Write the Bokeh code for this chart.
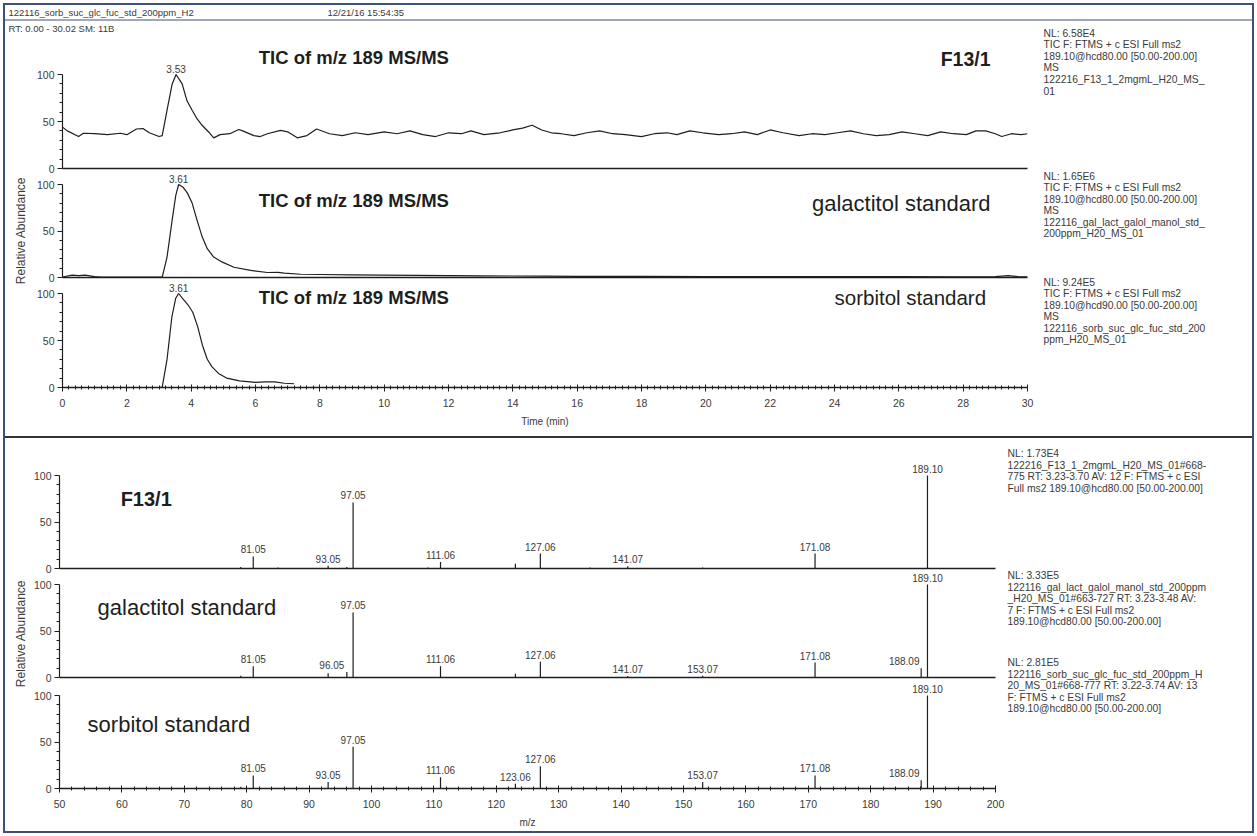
import numpy as np
from bokeh.plotting import figure
from bokeh.models import Range1d, FixedTicker, Spacer
from bokeh.layouts import column, row
from bokeh.core.properties import value
from bokeh.embed import file_html
from bokeh.resources import INLINE

FONT = "Liberation Sans"

# ---------------- chromatogram data (relative abundance vs. time, min) ----------------
f13_time = [0.0, 0.15, 0.5, 0.65, 1.0, 1.4, 1.8, 2.0, 2.3, 2.5,
            2.7, 3.0, 3.1, 3.25, 3.41, 3.53, 3.72, 3.87, 4.03, 4.18,
            4.34, 4.55, 4.7, 4.9, 5.2, 5.48, 5.6, 5.95, 6.15, 6.37,
            6.78, 7.0, 7.3, 7.6, 7.9, 8.3, 8.7, 9.1, 9.5, 10.0,
            10.4, 10.8, 11.2, 11.6, 12.0, 12.4, 12.7, 13.1, 13.6, 14.0,
            14.3, 14.6, 14.9, 15.2, 15.5, 15.9, 16.3, 16.7, 17.1, 17.5,
            18.0, 18.4, 18.8, 19.1, 19.5, 19.9, 20.4, 20.8, 21.2, 21.6,
            22.0, 22.4, 22.9, 23.3, 23.7, 24.1, 24.5, 24.9, 25.3, 25.7,
            26.1, 26.5, 26.9, 27.3, 27.7, 28.1, 28.4, 28.7, 29.0, 29.2,
            29.5, 29.8, 30.0]
f13_tic = [44, 40, 34, 37.5, 37, 36, 37.5, 36, 42, 42.5,
           38, 34, 35, 62, 90, 100, 90, 72, 62, 53,
           46, 38.6, 32.6, 36, 37, 41.5, 40, 35, 34, 37,
           40.5, 39, 32.6, 35, 42, 37, 35, 38, 36, 39,
           37, 40, 36, 34, 38, 37, 40, 36, 38, 41,
           43, 46, 41, 38, 37, 35, 38, 40, 37, 36,
           34, 37, 38, 36, 40, 38, 36, 37, 39, 36,
           41, 38, 35, 37, 36, 38, 40, 37, 35, 36,
           39, 37, 35, 39, 37, 36, 40, 40, 37, 34,
           37, 36, 37]

gal_time = [0.0, 0.3, 0.5, 0.7, 1.0, 1.2, 2.0, 2.5, 3.0, 3.1,
            3.25, 3.41, 3.52, 3.61, 3.75, 3.88, 4.03, 4.18, 4.34, 4.5,
            4.7, 4.97, 5.33, 5.85, 6.37, 6.7, 6.9, 7.4, 8.0, 9.0,
            10.0, 11.0, 12.0, 13.0, 14.0, 15.0, 16.0, 18.0, 20.0, 22.0,
            24.0, 26.0, 28.0, 29.0, 29.4, 29.7, 30.0]
gal_tic = [0.5, 2.5, 2.0, 2.5, 1.0, 0.5, 0.3, 0.3, 0.3, 0.5,
           22, 62, 88, 100, 97, 91, 80, 62, 44, 31,
           22, 16.5, 11, 7.6, 5.4, 5.5, 4.7, 3.5, 3.2, 2.8,
           2.5, 2.2, 2.0, 1.8, 1.6, 1.5, 1.3, 1.2, 1.0, 1.0,
           0.9, 0.9, 0.8, 1.0, 2.0, 1.0, 0.8]

sorb_time = [0.0, 1.0, 2.0, 3.0, 3.1, 3.25, 3.4, 3.52, 3.61, 3.75,
             3.9, 4.05, 4.2, 4.35, 4.5, 4.65, 4.85, 5.1, 5.5, 6.0,
             6.3, 6.6, 6.9, 7.2]
sorb_tic = [0, 0, 0, 0, 0.5, 30, 75, 95, 100, 94,
            88, 80, 65, 45, 30, 22, 15, 10, 7, 5.5,
            6, 6, 4.5, 4]

# ---------------- MS/MS spectra (m/z, relative abundance) ----------------
f13_mz = [79.05, 81.05, 85.03, 93.05, 96.04, 97.05, 109.07, 111.06, 123.06, 127.06,
          135.04, 141.07, 153.07, 171.08, 189.10]
f13_int = [1.5, 13, 1, 3, 1.5, 71, 1, 7, 5, 16,
           1, 2.5, 1, 16, 100]
f13_labeled = [81.05, 93.05, 97.05, 111.06, 127.06, 141.07, 171.08, 189.10]

gal_mz = [79.05, 81.05, 93.05, 96.05, 97.05, 111.06, 123.06, 127.06, 141.07, 153.07,
          171.08, 188.09, 189.10]
gal_int = [2, 12, 4.5, 6, 70, 12, 4, 17, 1.5, 2,
           16, 10, 100]
gal_labeled = [81.05, 96.05, 97.05, 111.06, 127.06, 141.07, 153.07, 171.08, 188.09, 189.10]

sorb_mz = [79.05, 81.05, 93.05, 97.05, 111.06, 123.06, 127.06, 153.07, 171.08, 188.09,
           189.10]
sorb_int = [2, 14, 7, 45, 12, 5, 24, 7, 14, 9,
            100]
sorb_labeled = [81.05, 93.05, 97.05, 111.06, 123.06, 127.06, 153.07, 171.08, 188.09, 189.10]

# ---------------- axis ticks ----------------
rel_ticks = [0, 50, 100]
time_ticks = list(range(0, 31, 2))
mz_ticks = list(range(50, 201, 10))

# ---------------- texts ----------------
header_file = "122116_sorb_suc_glc_fuc_std_200ppm_H2"
header_time = "12/21/16 15:54:35"
rt_line = "RT: 0.00 - 30.02   SM: 11B"
tic_title = "TIC of m/z 189 MS/MS"
sample_names = ["F13/1", "galactitol standard", "sorbitol standard"]

tic_info = [
    ["NL: 6.58E4", "TIC F: FTMS + c ESI Full ms2", "189.10@hcd80.00 [50.00-200.00]",
     "MS", "122216_F13_1_2mgmL_H20_MS_", "01"],
    ["NL: 1.65E6", "TIC F: FTMS + c ESI Full ms2", "189.10@hcd80.00 [50.00-200.00]",
     "MS", "122116_gal_lact_galol_manol_std_", "200ppm_H20_MS_01"],
    ["NL: 9.24E5", "TIC F: FTMS + c ESI Full ms2", "189.10@hcd90.00 [50.00-200.00]",
     "MS", "122116_sorb_suc_glc_fuc_std_200", "ppm_H20_MS_01"],
]
spec_info = [
    ["NL: 1.73E4", "122216_F13_1_2mgmL_H20_MS_01#668-",
     "775  RT: 3.23-3.70  AV: 12 F: FTMS + c ESI", "Full ms2 189.10@hcd80.00 [50.00-200.00]"],
    ["NL: 3.33E5", "122116_gal_lact_galol_manol_std_200ppm",
     "_H20_MS_01#663-727  RT: 3.23-3.48  AV:", "7 F: FTMS + c ESI Full ms2",
     "189.10@hcd80.00 [50.00-200.00]"],
    ["NL: 2.81E5", "122116_sorb_suc_glc_fuc_std_200ppm_H",
     "20_MS_01#668-777  RT: 3.22-3.74  AV: 13", "F: FTMS + c ESI Full ms2",
     "189.10@hcd80.00 [50.00-200.00]"],
]

INK = "#1e1e1e"
GREY = "#3a3a3a"
PAD = 8          # transparent margin above/below stacked panels
OVERLAP = -14    # stacked panels overlap by their transparent margins


def text_canvas(width, height):
    """A blank canvas whose data units are pixels, y growing downwards."""
    p = figure(width=width, height=height, x_range=Range1d(0, width), y_range=Range1d(height, 0),
               output_backend="svg", toolbar_location=None, min_border=0,
               x_axis_location=None, y_axis_location=None)
    p.outline_line_color = None
    p.grid.visible = False
    p.background_fill_color = "white"
    p.border_fill_color = "white"
    return p


def panel(width, frame_h, x_range, px_per_unit, left, right, top, bottom,
          bottom_axis=None, shift=0):
    styles = {"margin-top": f"{shift}px"} if shift else {}
    p = figure(width=width, height=top + frame_h + bottom, x_range=x_range,
               y_range=Range1d(0, frame_h / px_per_unit),
               output_backend="svg", toolbar_location=None,
               min_border_left=left, min_border_right=right,
               min_border_top=top, min_border_bottom=bottom, styles=styles)
    p.outline_line_color = None
    p.grid.visible = False
    p.background_fill_alpha = 0
    p.border_fill_alpha = 0
    yax = p.yaxis[0]
    yax.bounds = (0, 100)
    yax.ticker = FixedTicker(ticks=rel_ticks, minor_ticks=[10, 20, 30, 40, 60, 70, 80, 90])
    yax.axis_line_color = INK
    yax.axis_line_width = 1.2
    yax.major_tick_line_color = INK
    yax.minor_tick_line_color = INK
    yax.major_tick_in = 0
    yax.major_tick_out = 5
    yax.minor_tick_in = 0
    yax.minor_tick_out = 3
    yax.major_label_standoff = 3
    yax.major_label_text_font = FONT
    yax.major_label_text_font_size = "10.5px"
    yax.major_label_text_color = GREY

    xax = p.xaxis[0]
    xax.axis_line_color = INK
    xax.axis_line_width = 1.4
    if bottom_axis is None:
        xax.ticker = FixedTicker(ticks=[])
        xax.major_tick_out = 0
        xax.major_tick_in = 0
        xax.minor_tick_out = 0
        xax.minor_tick_in = 0
        xax.major_label_standoff = 0
    else:
        ticks, minor, label = bottom_axis
        xax.ticker = FixedTicker(ticks=ticks, minor_ticks=minor)
        xax.major_tick_line_color = INK
        xax.minor_tick_line_color = INK
        xax.major_tick_in = 3
        xax.major_tick_out = 4
        xax.minor_tick_in = 2
        xax.minor_tick_out = 2
        xax.major_label_standoff = 7
        xax.major_label_text_font = FONT
        xax.major_label_text_font_size = "10.5px"
        xax.major_label_text_color = GREY
        xax.axis_label = label
        xax.axis_label_standoff = 6
        xax.axis_label_text_font = FONT
        xax.axis_label_text_font_size = "10px"
        xax.axis_label_text_font_style = "normal"
        xax.axis_label_text_color = GREY
    return p


def panel_text(p, x, y, text, size, bold=False):
    p.text(x=[x], y=[y], text=[text], text_font=value(FONT), text_font_size=size,
           text_font_style="bold" if bold else "normal", text_color=INK,
           text_align="left", text_baseline="middle")


def info_block(p, x, y0, lines, step, size="10.3px"):
    p.text(x=[x] * len(lines), y=[y0 + i * step for i in range(len(lines))], text=lines,
           text_font=value(FONT), text_font_size=size, text_color=GREY,
           text_align="left", text_baseline="middle")


def trace(p, t, v):
    p.line(t, v, line_color=INK, line_width=1.2)
    k = int(np.argmax(v))
    p.text(x=[t[k]], y=[v[k]], text=[f"{t[k]:.2f}"], text_font=value(FONT),
           text_font_size="10px", text_color=GREY, text_align="center",
           text_baseline="bottom", y_offset=-2)


def sticks(p, mz, inten, labeled, shifted):
    p.segment(x0=mz, y0=[0] * len(mz), x1=mz, y1=inten, line_color=INK, line_width=1.2)
    lab_y = [inten[mz.index(m)] for m in labeled]
    offs = [shifted.get(m, 0) for m in labeled]
    p.text(x=labeled, y=lab_y, text=[f"{m:.2f}" for m in labeled], x_offset=offs, y_offset=-3,
           text_font=value(FONT), text_font_size="10px", text_color=GREY,
           text_align="center", text_baseline="bottom")


W = 1247

# header band
header = text_canvas(W, 14)
header.text(x=[3, 322], y=[7, 7], text=[header_file, header_time], text_font=value(FONT),
            text_font_size="9.5px", text_color=GREY, text_align="left", text_baseline="middle")
sep_header = Spacer(width=W, height=2, styles={"background-color": "#9fa8ba"})

# ---------------- chromatograms ----------------
rt_fig = text_canvas(1031, 14)
rt_fig.text(x=[3], y=[7], text=[rt_line], text_font=value(FONT), text_font_size="9.5px",
            text_color=GREY, text_align="left", text_baseline="middle")

chrom_strip = text_canvas(24, 401)
chrom_strip.text(x=[15], y=[195], text=["Relative Abundance"], angle=np.pi / 2,
                 text_font=value(FONT), text_font_size="12px", text_color=GREY,
                 text_align="center", text_baseline="middle")

time_range = Range1d(0, 30)
minor_time = [round(i * 0.2, 1) for i in range(151)]
c1 = panel(1007, 133, time_range, 0.94, 33, 9, 0, PAD)
c2 = panel(1007, 107, time_range, 0.93, 33, 9, PAD, PAD, shift=OVERLAP)
c3 = panel(1007, 108, time_range, 0.94, 33, 9, PAD, 49,
           bottom_axis=(time_ticks, minor_time, "Time (min)"), shift=OVERLAP)

trace(c1, f13_time, f13_tic)
trace(c2, gal_time, gal_tic)
trace(c3, sorb_time, sorb_tic)

panel_text(c1, 6.1, 118, tic_title, "18.5px", bold=True)
panel_text(c1, 27.3, 117, sample_names[0], "19.5px", bold=True)
panel_text(c2, 6.1, 83, tic_title, "18.5px", bold=True)
panel_text(c2, 23.3, 80, sample_names[1], "22px")
panel_text(c3, 6.1, 96, tic_title, "18.5px", bold=True)
panel_text(c3, 24.0, 96, sample_names[2], "20.5px")

chrom_info = text_canvas(216, 415)
info_block(chrom_info, 7, 12, tic_info[0], 11.4)
info_block(chrom_info, 7, 155, tic_info[1], 11.4)
info_block(chrom_info, 7, 261, tic_info[2], 11.4)

chrom_section = row(column(rt_fig, row(chrom_strip, column(c1, c2, c3))), chrom_info)

sep_mid = Spacer(width=W, height=2, styles={"background-color": "#333333"})

# ---------------- spectra ----------------
spec_strip = text_canvas(24, 393)
spec_strip.text(x=[15], y=[195], text=["Relative Abundance"], angle=np.pi / 2,
                text_font=value(FONT), text_font_size="12px", text_color=GREY,
                text_align="center", text_baseline="middle")

mz_range = Range1d(50, 200)
minor_mz = list(range(50, 201, 2))
s1 = panel(976, 130, mz_range, 0.93, 30, 10, 0, PAD)
s2 = panel(976, 107, mz_range, 0.93, 30, 10, PAD, PAD, shift=OVERLAP)
s3 = panel(976, 109, mz_range, 0.93, 30, 10, PAD, 43,
           bottom_axis=(mz_ticks, minor_mz, "m/z"), shift=OVERLAP)

sticks(s1, f13_mz, f13_int, f13_labeled, {})
sticks(s2, gal_mz, gal_int, gal_labeled, {96.05: -15, 188.09: -17})
sticks(s3, sorb_mz, sorb_int, sorb_labeled, {188.09: -17})

panel_text(s1, 59.8, 75, sample_names[0], "20px", bold=True)
panel_text(s2, 56.1, 75, sample_names[1], "22px")
panel_text(s3, 54.5, 69, sample_names[2], "22px")

spec_info_fig = text_canvas(247, 393)
info_block(spec_info_fig, 2, 15, spec_info[0], 11.5)
info_block(spec_info_fig, 2, 137, spec_info[1], 11.5)
info_block(spec_info_fig, 2, 224, spec_info[2], 11.5)

spec_section = row(spec_strip, column(s1, s2, s3), spec_info_fig)

root = column(header, sep_header, chrom_section, sep_mid, spec_section,
              styles={"border": "2px solid #3d5079", "margin": "3px"})

open("out.html", "w").write(file_html(root, INLINE, title="TIC and MS/MS of m/z 189"))
